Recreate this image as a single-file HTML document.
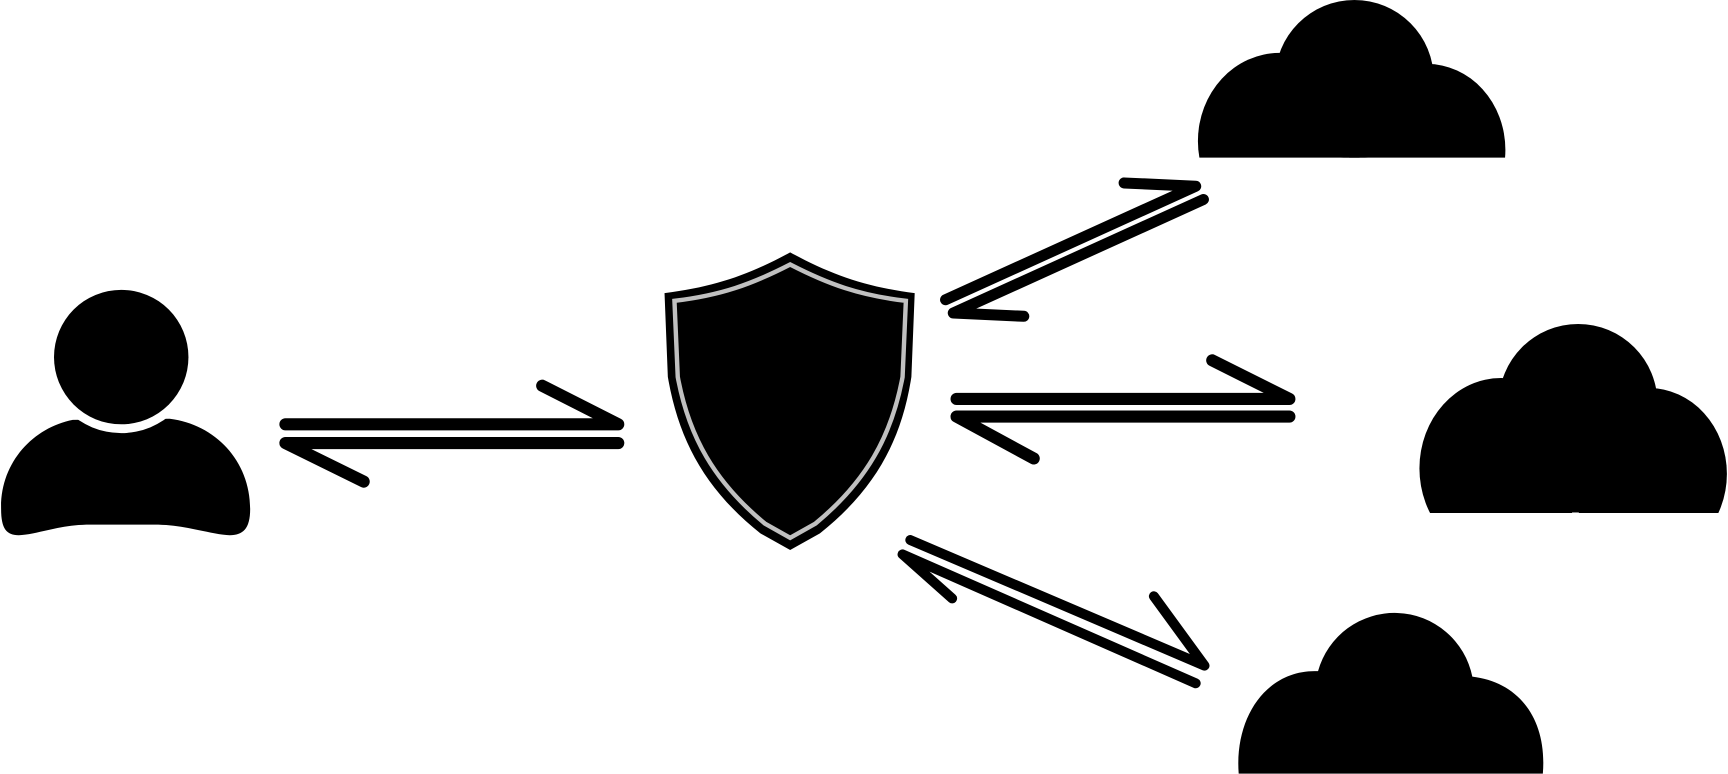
<!DOCTYPE html>
<html><head><meta charset="utf-8"><style>
html,body{margin:0;padding:0;background:#fff;width:1728px;height:774px;overflow:hidden}
svg{display:block;overflow:hidden}
</style></head><body>
<svg width="1728" height="774" viewBox="0 0 1568 702.3" preserveAspectRatio="none" xmlns="http://www.w3.org/2000/svg">
<defs>
<clipPath id="clipTop"><rect x="1000" y="-50" width="568" height="193"/></clipPath>
<clipPath id="clipMid"><rect x="1200" y="250" width="368" height="215.5"/></clipPath>
</defs>

<g>
  <path d="M1,462 C0,420 30,388 66,381 L154,380 C195,385 227,418 227,462 C227,486 215,488 195,484 C175,480 160,476 140,476 L82,476 C62,476 48,480 30,484 C10,488 1,486 1,462 Z" fill="#000"/>
  <circle cx="110" cy="324" r="69" fill="#fff"/>
  <circle cx="110" cy="324" r="61" fill="#000"/>
</g>

<g stroke="#000" stroke-width="11" stroke-linecap="round" stroke-linejoin="round" fill="none">
  <path d="M259,385 L561,385 L492,350"/>
  <path d="M561,402 L259,402 L330,437"/>
</g>

<g>
  <path d="M717,229 C680,249 650,260 603,266 L606,342 C616,400 640,444 690,484 L717,499 L744,484 C794,444 818,400 827,342 L830,266 C784,260 754,249 717,229 Z" fill="#000"/>
  <path d="M717,240 C682,258 654,268 612,273 L615,342 C625,396 648,437 694,475 L717,488 L740,475 C786,437 809,396 819,342 L822,273 C780,268 752,258 717,240 Z" fill="#000" stroke="#c0c0c0" stroke-width="4"/>
</g>

<g stroke="#000" stroke-width="10" stroke-linecap="round" stroke-linejoin="round" fill="none">
  <path d="M858,272 L1085,169 L1020,166"/>
  <path d="M1092,181 L865,284 L929,287"/>
</g>

<g stroke="#000" stroke-width="11" stroke-linecap="round" stroke-linejoin="round" fill="none">
  <path d="M868,362 L1170,362 L1100,327"/>
  <path d="M1170,378 L868,378 L938,416"/>
</g>

<g stroke="#000" stroke-width="9" stroke-linecap="round" stroke-linejoin="round" fill="none">
  <path d="M826,490 L1093,604 L1047,541"/>
  <path d="M1085,620 L819,503 L864,543"/>
</g>

<g clip-path="url(#clipTop)" fill="#000">
  <circle cx="1229" cy="72" r="72"/>
  <ellipse cx="1161" cy="128" rx="74" ry="80"/>
  <ellipse cx="1295" cy="136" rx="71" ry="78"/>
  <rect x="1161" y="72" width="134" height="70"/>
</g>

<g clip-path="url(#clipMid)" fill="#000">
  <circle cx="1432" cy="366" r="72"/>
  <ellipse cx="1362" cy="425" rx="74" ry="82"/>
  <ellipse cx="1496" cy="430" rx="71" ry="78"/>
  <rect x="1362" y="366" width="134" height="99"/>
</g>

<path fill="#000" d="M1124,702 C1120,650 1150,607 1196,609 A72,72 0 0 1 1336,614 C1378,619 1404,652 1400,702 Z"/>
</svg>
</body></html>
